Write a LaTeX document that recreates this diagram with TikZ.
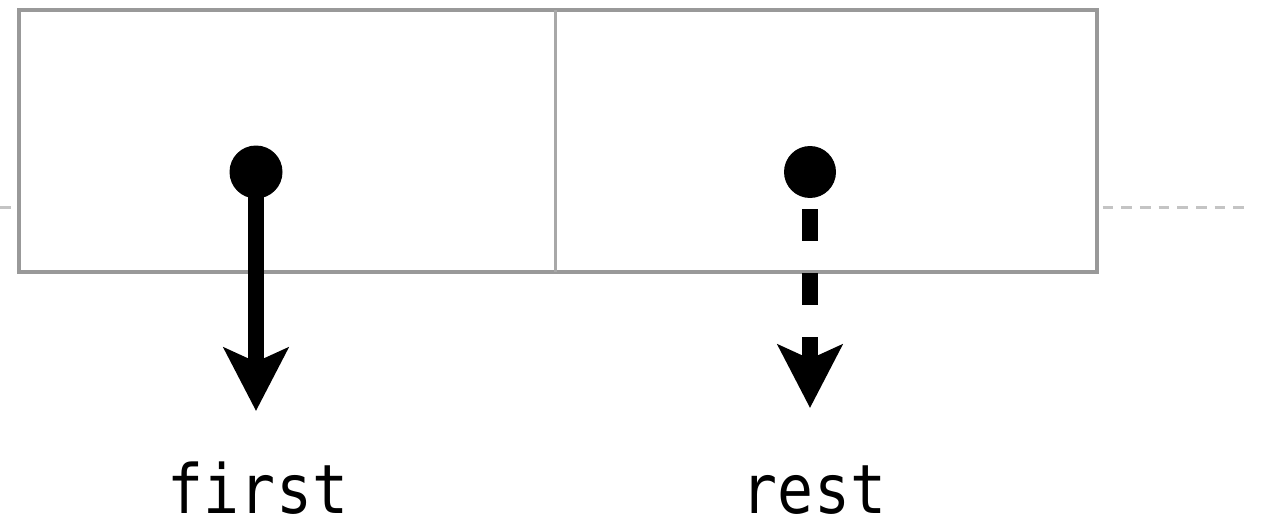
\documentclass[tikz,border=0pt]{standalone}
\usepackage{fontspec}
\newfontfamily\codefont[FakeStretch=0.88]{DejaVu Sans Mono}
\usetikzlibrary{arrows.meta}
\definecolor{cellgray}{HTML}{999999}
\definecolor{divgray}{HTML}{A8A8A8}
\definecolor{axisgray}{HTML}{C4C4C4}
\tikzset{
  cell/.style={rectangle, inner sep=0pt, minimum height=262pt},
  outline/.style={draw=cellgray, line width=4pt},
  divider/.style={draw=divgray, line width=3pt},
  axis/.style={draw=axisgray, line width=2.5pt, dash pattern=on 10.7pt off 8pt},
  ptr/.style={circle, fill=black, inner sep=0pt, minimum size=53pt},
  ptrline/.style={line width=16pt, -{Stealth[length=63pt, width=64pt, inset=14pt]}},
  ptrdash/.style={ptrline, dash pattern=on 32pt off 32pt},
  lbl/.style={font=\codefont\fontsize{68pt}{68pt}\selectfont, anchor=base, inner sep=0pt}
}
\begin{document}
\begin{tikzpicture}[x=1pt, y=-1pt]
  \useasboundingbox (0,0) rectangle (1271,524);
  % guide line running behind the pair
  \coordinate (gl0) at (0,207.5);
  \coordinate (gl1) at (12,207.5);
  \coordinate (gr0) at (1102.5,207.5);
  \coordinate (gr1) at (1245,207.5);
  \draw[axis] (gl0) -- (gl1);
  \draw[axis] (gr0) -- (gr1);
  % the two cells of the pair
  \node[cell, minimum width=536pt] (car) at (287,141) {};
  \node[cell, minimum width=542pt] (cdr) at (826,141) {};
  \draw[outline] (car.north west) rectangle (cdr.south east);
  \draw[divider] (car.north east) -- (car.south east);
  % pointers
  \node[ptr] (p1) at (256,172) {};
  \node[ptr, minimum size=52pt] (p2) at (810,172) {};
  \node[lbl] (first) at (258,513) {first};
  \node[lbl] (rest) at (814,513) {rest};
  \coordinate (t1) at (256,411);
  \coordinate (s2) at (810,209);
  \coordinate (t2) at (810,408);
  \draw[ptrline] (p1.center) -- (t1);
  \draw[ptrdash] (s2) -- (t2);
\end{tikzpicture}
\end{document}
